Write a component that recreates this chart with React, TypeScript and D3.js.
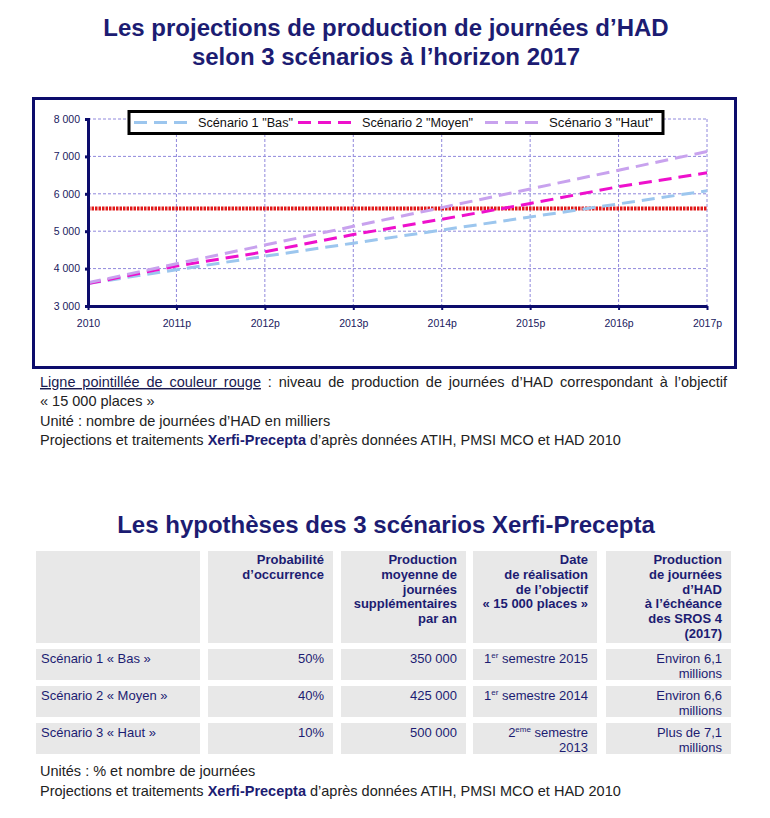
import { useEffect, useRef } from "react";
import * as d3 from "d3";

// chart data (milliers de journées)
const years = ["2010", "2011p", "2012p", "2013p", "2014p", "2015p", "2016p", "2017p"];
const scenarioBas = [3600, 3970, 4330, 4680, 5030, 5380, 5730, 6080];
const scenarioMoyen = [3600, 4070, 4450, 4910, 5320, 5740, 6190, 6560];
const scenarioHaut = [3620, 4130, 4630, 5130, 5630, 6130, 6630, 7130];
const objectif = 5610;
const yTicks = [3000, 4000, 5000, 6000, 7000, 8000];

const seriesNames = ['Scénario 1 "Bas"', 'Scénario 2 "Moyen"', 'Scénario 3 "Haut"'];
const seriesColors = ["#9cc6ee", "#ee10cc", "#c8a2ee"];

// table data
const headers = [
  [],
  ["Probabilité", "d’occurrence"],
  ["Production", "moyenne de", "journées", "supplémentaires", "par an"],
  ["Date", "de réalisation", "de l’objectif", "« 15 000 places »"],
  ["Production", "de journées", "d’HAD", "à l’échéance", "des SROS 4", "(2017)"],
];
const rowLabels = ["Scénario 1 « Bas »", "Scénario 2 « Moyen »", "Scénario 3 « Haut »"];
const probabilites = ["50%", "40%", "10%"];
const productions = ["350 000", "425 000", "500 000"];
const dates = [
  { n: "1", sup: "er", rest: " semestre 2015", line2: "" },
  { n: "1", sup: "er", rest: " semestre 2014", line2: "" },
  { n: "2", sup: "eme", rest: " semestre", line2: "2013" },
];
const echeances = [
  ["Environ 6,1", "millions"],
  ["Environ 6,6", "millions"],
  ["Plus de 7,1", "millions"],
];

const NAVY = "#1c1c72";
const FONT = "'Liberation Sans', Arial, sans-serif";

export default function App() {
  const svgRef = useRef<SVGSVGElement | null>(null);

  useEffect(() => {
    const svg = d3.select(svgRef.current);
    svg.selectAll("*").remove();
    svg.attr("font-family", FONT);

    // titles
    const title = (txt: string, yy: number) =>
      svg
        .append("text")
        .attr("x", 386)
        .attr("y", yy)
        .attr("text-anchor", "middle")
        .attr("font-size", 24)
        .attr("font-weight", "bold")
        .attr("fill", NAVY)
        .text(txt);
    title("Les projections de production de journées d’HAD", 36);
    title("selon 3 scénarios à l’horizon 2017", 65);

    // chart frame
    svg
      .append("rect")
      .attr("x", 33.5)
      .attr("y", 98.5)
      .attr("width", 702)
      .attr("height", 269)
      .attr("fill", "white")
      .attr("stroke", "#0c0c6c")
      .attr("stroke-width", 3);

    const x = d3.scalePoint<string>().domain(years).range([88, 707]);
    const y = d3.scaleLinear().domain([3000, 8000]).range([306, 119]);

    const g = svg.append("g");

    // grid
    g.selectAll(".hgrid")
      .data(yTicks.slice(1))
      .join("line")
      .attr("x1", 88)
      .attr("x2", 707)
      .attr("y1", (d) => y(d))
      .attr("y2", (d) => y(d))
      .attr("stroke", "#9088dc")
      .attr("stroke-width", 1)
      .attr("stroke-dasharray", "3,2");
    g.selectAll(".vgrid")
      .data(years.slice(1))
      .join("line")
      .attr("x1", (d) => x(d)!)
      .attr("x2", (d) => x(d)!)
      .attr("y1", 119)
      .attr("y2", 306)
      .attr("stroke", "#9088dc")
      .attr("stroke-width", 1)
      .attr("stroke-dasharray", "3,2");

    // objective line
    g.append("line")
      .attr("x1", 88)
      .attr("x2", 707)
      .attr("y1", y(objectif))
      .attr("y2", y(objectif))
      .attr("stroke", "#e01818")
      .attr("stroke-width", 4)
      .attr("stroke-dasharray", "2.5,1");

    const line = d3
      .line<number>()
      .x((_, i) => x(years[i])!)
      .y((d) => y(d));

    [scenarioBas, scenarioMoyen, scenarioHaut].forEach((s, i) => {
      g.append("path")
        .attr("d", line(s)!)
        .attr("fill", "none")
        .attr("stroke", seriesColors[i])
        .attr("stroke-width", 3)
        .attr("stroke-dasharray", "13,7");
    });

    // axes
    const yAxis = svg
      .append("g")
      .attr("transform", "translate(88,0)")
      .call(
        d3
          .axisLeft(y)
          .tickValues(yTicks)
          .tickSize(3)
          .tickFormat((d) => d3.format(",")(d as number).replace(",", " "))
      );
    yAxis.select(".domain").attr("stroke", "#0c0c6c").attr("stroke-width", 3);
    yAxis.selectAll(".tick line").attr("stroke", "#0c0c6c").attr("stroke-width", 3);
    yAxis
      .selectAll(".tick text")
      .attr("font-size", 10.5)
      .attr("fill", "#202060")
      .attr("font-family", FONT)
      .attr("x", -8);

    const xAxis = svg
      .append("g")
      .attr("transform", "translate(0,306)")
      .call(d3.axisBottom(x).tickSize(4).tickSizeOuter(0));
    xAxis.select(".domain").attr("stroke", "#0c0c6c").attr("stroke-width", 3);
    xAxis.selectAll(".tick line").attr("stroke", "#0c0c6c").attr("stroke-width", 2);
    xAxis
      .selectAll(".tick text")
      .attr("font-size", 10.5)
      .attr("fill", "#202060")
      .attr("font-family", FONT)
      .attr("y", 14);

    // legend
    svg
      .append("rect")
      .attr("x", 129)
      .attr("y", 111.5)
      .attr("width", 534)
      .attr("height", 22)
      .attr("fill", "white")
      .attr("stroke", "black")
      .attr("stroke-width", 3);
    const legendX = [134, 298, 485];
    const legendW = [95, 111, 104];
    seriesNames.forEach((name, i) => {
      svg
        .append("line")
        .attr("x1", legendX[i])
        .attr("x2", legendX[i] + 58)
        .attr("y1", 122.5)
        .attr("y2", 122.5)
        .attr("stroke", seriesColors[i])
        .attr("stroke-width", 3)
        .attr("stroke-dasharray", "13,7");
      svg
        .append("text")
        .attr("x", legendX[i] + 64)
        .attr("y", 127)
        .attr("font-size", 12)
        .attr("fill", "#111")
        .attr("textLength", legendW[i])
        .attr("lengthAdjust", "spacingAndGlyphs")
        .text(name);
    });

    // notes under chart
    const n1 = svg
      .append("text")
      .attr("x", 40)
      .attr("y", 387)
      .attr("font-size", 14.5)
      .attr("fill", "#222");
    n1.append("tspan")
      .attr("fill", "#1a1a50")
      .attr("text-decoration", "underline")
      .text("Ligne pointillée de couleur rouge");
    n1.append("tspan").text(" : niveau de production de journées d’HAD correspondant à l’objectif");
    // justify the first line by word spacing
    const node = n1.node() as SVGTextElement;
    const natural = node.getComputedTextLength();
    const spaces = (node.textContent || "").split(" ").length - 1;
    if (natural < 687 && spaces > 0) n1.attr("word-spacing", (687 - natural) / spaces);

    const note = (txt: string, yy: number) =>
      svg.append("text").attr("x", 40).attr("y", yy).attr("font-size", 14.5).attr("fill", "#222").text(txt);
    note("« 15 000 places »", 406);
    note("Unité : nombre de journées d’HAD en milliers", 426);

    const source = (yy: number) => {
      const t = svg.append("text").attr("x", 40).attr("y", yy).attr("font-size", 14.5).attr("fill", "#222");
      t.append("tspan").text("Projections et traitements ");
      t.append("tspan").attr("font-weight", "bold").attr("fill", NAVY).text("Xerfi-Precepta");
      t.append("tspan").text(" d’après données ATIH, PMSI MCO et HAD 2010");
    };
    source(445);

    // second title
    title("Les hypothèses des 3 scénarios Xerfi-Precepta", 533);

    // table
    const cols = [
      [36, 200],
      [208, 333],
      [341, 466],
      [473, 597],
      [606, 731],
    ];
    const rows = [
      [551, 643],
      [649, 680],
      [686, 717],
      [723, 754],
    ];
    rows.forEach((r) => {
      cols.forEach((c) => {
        svg
          .append("rect")
          .attr("x", c[0])
          .attr("y", r[0])
          .attr("width", c[1] - c[0])
          .attr("height", r[1] - r[0])
          .attr("fill", "#e8e8e8");
      });
    });

    headers.forEach((lines, ci) => {
      lines.forEach((l, li) => {
        svg
          .append("text")
          .attr("x", cols[ci][1] - 9)
          .attr("y", 564 + li * 14.8)
          .attr("text-anchor", "end")
          .attr("font-size", 13)
          .attr("font-weight", "bold")
          .attr("fill", NAVY)
          .text(l);
      });
    });

    const cell = (txt: string, ci: number, ri: number, line = 0) =>
      svg
        .append("text")
        .attr("x", ci === 0 ? cols[0][0] + 5 : cols[ci][1] - 9)
        .attr("y", rows[ri + 1][0] + 14 + line * 15)
        .attr("text-anchor", ci === 0 ? "start" : "end")
        .attr("font-size", 13)
        .attr("fill", NAVY)
        .text(txt);

    rowLabels.forEach((lbl, i) => {
      cell(lbl, 0, i);
      cell(probabilites[i], 1, i);
      cell(productions[i], 2, i);
      const t = cell("", 3, i);
      t.append("tspan").text(dates[i].n);
      t.append("tspan").attr("font-size", 8).attr("dy", -5).text(dates[i].sup);
      t.append("tspan").attr("dy", 5).text(dates[i].rest);
      if (dates[i].line2) cell(dates[i].line2, 3, i, 1);
      cell(echeances[i][0], 4, i);
      cell(echeances[i][1], 4, i, 1);
    });

    note("Unités : % et nombre de journées", 776);
    source(796);
  }, []);

  return (
    <svg
      ref={svgRef}
      width={770}
      height={818}
      style={{ position: "absolute", left: 0, top: 0, background: "white" }}
    />
  );
}
